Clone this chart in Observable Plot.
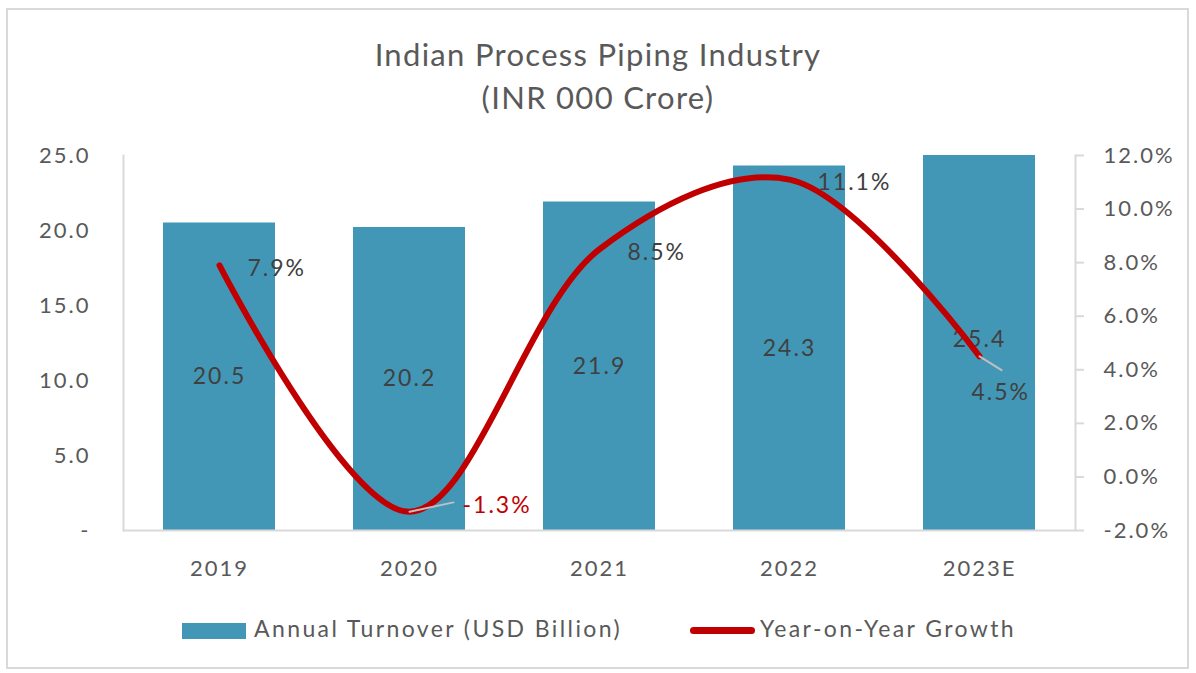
<!DOCTYPE html>
<html>
<head>
<meta charset="utf-8">
<script src="https://cdn.jsdelivr.net/npm/d3@7"></script>
<script src="https://cdn.jsdelivr.net/npm/@observablehq/plot@0.6"></script>
<style>
  html, body { margin: 0; padding: 0; background: #fff; }
  body { width: 1196px; height: 673px; position: relative; overflow: hidden; font-family: Lato, "Open Sans", sans-serif; color: #595959; }
  #frame { position: absolute; left: 6px; top: 8px; width: 1179px; height: 657px; border: 2px solid #d9d9d9; }
  #chart { position: absolute; left: 0; top: 0; }
  #chart svg text { letter-spacing: 2px; }
  .title { position: absolute; left: 0; width: 1196px; text-align: center; font-size: 31px; letter-spacing: 1.3px; color: #595959; }
  #legend { position: absolute; top: 612px; left: 0; width: 1196px; font-size: 23px; letter-spacing: 2.4px; color: #595959; }
  .sw-bar { position: absolute; left: 182px; top: 11px; width: 64px; height: 16px; background: #4397b6; }
  .sw-line { position: absolute; left: 690px; top: 15px; width: 65px; height: 7px; border-radius: 4px; background: #c00000; }
  .lt { position: absolute; top: 2px; white-space: nowrap; }
</style>
</head>
<body>
<div id="frame"></div>
<div id="chart"></div>
<div class="title" style="top:35px">Indian Process Piping Industry</div>
<div class="title" style="top:78px">(INR 000 Crore)</div>
<div id="legend">
  <div class="sw-bar"></div><div class="lt" style="left:254px">Annual Turnover (USD Billion)</div>
  <div class="sw-line"></div><div class="lt" style="left:760px">Year-on-Year Growth</div>
</div>
<script>
const years = ["2019", "2020", "2021", "2022", "2023E"];
const turnover = [20.5, 20.2, 21.9, 24.3, 25.4];
const growth = [7.9, -1.3, 8.5, 11.1, 4.5];
const leftTicks = [0, 5, 10, 15, 20, 25];
const rightTicks = [-2, 0, 2, 4, 6, 8, 10, 12];

const pMin = -2, pMax = 12, yMax = 25;
const toY = p => (p - pMin) * yMax / (pMax - pMin);
const fromY = v => Math.round(((v * (pMax - pMin) / yMax) + pMin) * 10) / 10;

const rows = years.map((year, i) => ({year, turnover: turnover[i], growth: growth[i], gy: toY(growth[i]), i}));

const font = "Lato, 'Open Sans', sans-serif";
const gray = "#595959";
const axisStroke = "#d9d9d9";

const leaderShape = { draw(context, l) { context.moveTo(0, 0); context.lineTo(0, -l); } };

const plot = Plot.plot({
  width: 1196,
  height: 590,
  marginLeft: 123,
  marginRight: 121,
  marginTop: 155,
  marginBottom: 60,
  style: { fontFamily: font, color: gray, background: "transparent", overflow: "visible" },
  x: { domain: years, paddingInner: 0.41, paddingOuter: 0.205, axis: null },
  y: { domain: [0, yMax], axis: null },
  marks: [
    Plot.barY(rows, { x: "year", y: "turnover", fill: "#4397b6", clip: true }),
    Plot.ruleY([0], { stroke: axisStroke, strokeWidth: 2 }),
    Plot.frame({ anchor: "left", stroke: axisStroke, strokeWidth: 2 }),
    Plot.frame({ anchor: "right", stroke: axisStroke, strokeWidth: 2 }),
    Plot.axisY(leftTicks, { anchor: "left", label: null, tickSize: 0, tickPadding: 33, fontSize: 22, fill: gray,
      tickFormat: d => d === 0 ? "-" : d.toFixed(1) }),
    Plot.axisY(rightTicks.map(toY), { anchor: "right", label: null, tickSize: 8, tickPadding: 20, fontSize: 22, fill: gray,
      stroke: axisStroke, strokeWidth: 2, textAnchor: "start",
      tickFormat: v => fromY(v).toFixed(1) + "%" }),
    Plot.axisX(years, { anchor: "bottom", label: null, tickSize: 0, tickPadding: 30, fontSize: 22, fill: gray }),
    Plot.text(rows, { x: "year", y: d => d.turnover / 2, text: d => d.turnover.toFixed(1),
      fontSize: 23, fill: "#404040" }),
    Plot.line(rows, { x: "year", y: "gy", curve: "catmull-rom", stroke: "#c00000", strokeWidth: 6,
      strokeLinecap: "round" }),
    Plot.vector(rows.filter(d => d.year === "2020"), { x: "year", y: "gy", length: 45, rotate: 78,
      anchor: "start", shape: leaderShape, stroke: "#bfbfbf", strokeWidth: 2 }),
    Plot.vector(rows.filter(d => d.year === "2023E"), { x: "year", y: "gy", length: 26, rotate: 122,
      anchor: "start", shape: leaderShape, stroke: "#bfbfbf", strokeWidth: 2 }),
    Plot.text(rows.filter(d => d.year !== "2020" && d.year !== "2023E"), { x: "year", y: "gy",
      text: d => d.growth.toFixed(1) + "%", textAnchor: "start", dx: 28, dy: 3, fontSize: 23, fill: "#404040" }),
    Plot.text(rows.filter(d => d.year === "2020"), { x: "year", y: "gy",
      text: d => d.growth.toFixed(1) + "%", textAnchor: "start", dx: 53, dy: -6, fontSize: 23, fill: "#c00000" }),
    Plot.text(rows.filter(d => d.year === "2023E"), { x: "year", y: "gy",
      text: d => d.growth.toFixed(1) + "%", textAnchor: "start", dx: -8, dy: 36, fontSize: 23, fill: "#404040" })
  ]
});
document.getElementById("chart").appendChild(plot);
</script>
</body>
</html>
